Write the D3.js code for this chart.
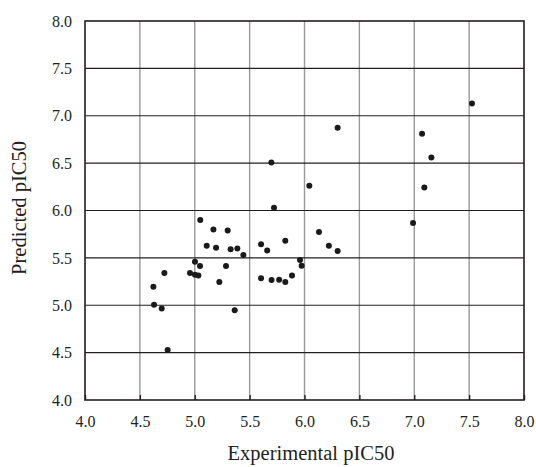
<!DOCTYPE html>
<html>
<head>
<meta charset="utf-8">
<script src="https://cdn.jsdelivr.net/npm/d3@7"></script>
<style>
  html, body { margin: 0; padding: 0; background: #fff; }
  svg { display: block; }
</style>
</head>
<body>
<svg id="chart" width="536" height="467"></svg>
<script>
const experimental = [4.623, 4.629, 4.699, 4.723, 4.753, 4.957, 5.002, 5.002, 5.033, 5.048,
  5.05, 5.109, 5.17, 5.194, 5.224, 5.285, 5.30, 5.327, 5.364, 5.388,
  5.443, 5.604, 5.604, 5.66, 5.698, 5.70, 5.722, 5.769, 5.825, 5.825,
  5.886, 5.959, 5.974, 6.044, 6.132, 6.222, 6.302, 6.302, 6.989, 7.071,
  7.092, 7.156, 7.526];
const predicted = [5.195, 5.005, 4.967, 5.340, 4.527, 5.340, 5.459, 5.322, 5.315, 5.413,
  5.90, 5.628, 5.80, 5.607, 5.245, 5.413, 5.79, 5.590, 4.946, 5.600,
  5.530, 5.644, 5.284, 5.579, 6.507, 5.266, 6.029, 5.268, 5.681, 5.245,
  5.315, 5.477, 5.417, 6.261, 5.772, 5.628, 5.572, 6.873, 5.867, 6.809,
  6.244, 6.560, 7.130];
const xTicks = [4.0, 4.5, 5.0, 5.5, 6.0, 6.5, 7.0, 7.5, 8.0];
const yTicks = [4.0, 4.5, 5.0, 5.5, 6.0, 6.5, 7.0, 7.5, 8.0];
const xTitle = "Experimental pIC50";
const yTitle = "Predicted pIC50";

const svg = d3.select("#chart");
const L = 85, R = 524, T = 21, B = 400;
const x = d3.scaleLinear().domain([4, 8]).range([L, R]);
const y = d3.scaleLinear().domain([4, 8]).range([B, T]);
const ink = "#231f20";
const font = "Liberation Serif";

// vertical gridlines (gray)
svg.append("g").selectAll("line")
  .data(xTicks.filter(d => d > 4 && d < 8))
  .join("line")
  .attr("x1", d => x(d)).attr("x2", d => x(d))
  .attr("y1", T).attr("y2", B)
  .attr("stroke", "#9a9a9a").attr("stroke-width", 1.4);

// horizontal gridlines (dark)
svg.append("g").selectAll("line")
  .data(yTicks.filter(d => d > 4 && d < 8))
  .join("line")
  .attr("x1", L).attr("x2", R)
  .attr("y1", d => y(d)).attr("y2", d => y(d))
  .attr("stroke", ink).attr("stroke-width", 1.1);

// bottom axis
const xAxis = svg.append("g")
  .attr("transform", `translate(0,${B})`)
  .call(d3.axisBottom(x).tickValues(xTicks).tickFormat(d3.format(".1f"))
    .tickSizeInner(-5).tickSizeOuter(0).tickPadding(16));
xAxis.select(".domain").remove();
xAxis.selectAll(".tick line").attr("stroke", ink).attr("stroke-width", 1.4);
xAxis.selectAll(".tick text")
  .attr("fill", ink)
  .attr("font-family", font)
  .attr("font-size", 16);

// left axis
const yAxis = svg.append("g")
  .attr("transform", `translate(${L},0)`)
  .call(d3.axisLeft(y).tickValues(yTicks).tickFormat(d3.format(".1f"))
    .tickSizeInner(0).tickSizeOuter(0).tickPadding(13));
yAxis.select(".domain").remove();
yAxis.selectAll(".tick line").remove();
yAxis.selectAll(".tick text")
  .attr("fill", ink)
  .attr("font-family", font)
  .attr("font-size", 16);

// frame
svg.append("rect")
  .attr("x", L).attr("y", T).attr("width", R - L).attr("height", B - T)
  .attr("fill", "none").attr("stroke", ink).attr("stroke-width", 1.6);

// points
svg.append("g").selectAll("circle")
  .data(experimental.map((d, i) => [d, predicted[i]]))
  .join("circle")
  .attr("cx", d => x(d[0])).attr("cy", d => y(d[1]))
  .attr("r", 3).attr("fill", "#1a1a1a");

// titles
svg.append("text")
  .attr("x", 311).attr("y", 460)
  .attr("text-anchor", "middle")
  .attr("font-family", font)
  .attr("font-size", 20.5).attr("fill", ink)
  .text(xTitle);

svg.append("text")
  .attr("transform", "translate(26,208) rotate(-90)")
  .attr("text-anchor", "middle")
  .attr("font-family", font)
  .attr("font-size", 20.5).attr("fill", ink)
  .text(yTitle);
</script>
</body>
</html>
